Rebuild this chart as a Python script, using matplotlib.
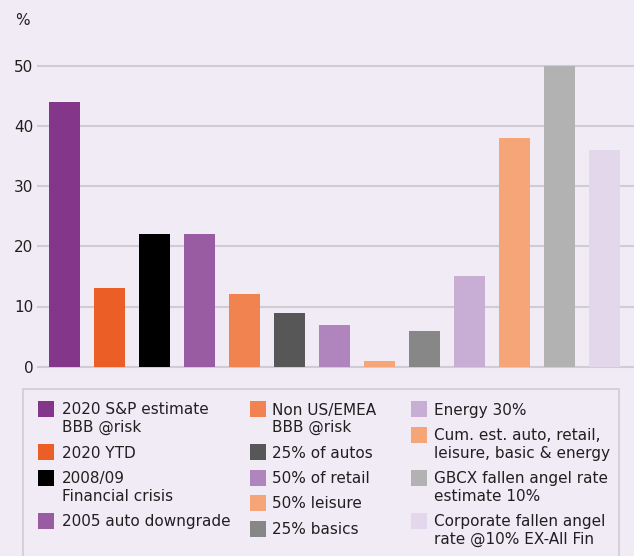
import matplotlib
matplotlib.use("Agg")
import matplotlib.pyplot as plt
from matplotlib.patches import Rectangle

# fallen angel scenarios, % of BBB universe
labels = [
    "2020 S&P estimate\nBBB @risk",
    "2020 YTD",
    "2008/09\nFinancial crisis",
    "2005 auto downgrade",
    "Non US/EMEA\nBBB @risk",
    "25% of autos",
    "50% of retail",
    "50% leisure",
    "25% basics",
    "Energy 30%",
    "Cum. est. auto, retail,\nleisure, basic & energy",
    "GBCX fallen angel rate\nestimate 10%",
    "Corporate fallen angel\nrate @10% EX-All Fin",
]
values = [44, 13, 22, 22, 12, 9, 7, 1, 6, 15, 38, 50, 36]
colors = [
    "#84368A", "#EB5F26", "#000000", "#995BA2", "#F0834F",
    "#575757", "#B085BE", "#F5A578", "#878787", "#C8AED4",
    "#F5A578", "#B2B2B2", "#E3D7EB",
]
yticks = [0, 10, 20, 30, 40, 50]

BG = "#F0EBF5"
TXT = "#231F20"
W, H = 634, 556

fig = plt.figure(figsize=(W / 100, H / 100), dpi=100, facecolor=BG)


def px(x, y):
    return x / W, 1 - y / H


# plotting area: 0 at y=366.7px, 50 at y=65.7px
ax = fig.add_axes([38 / W, (H - 366.7) / H, (W - 38) / W, 301 / H])
ax.set_facecolor(BG)
x = list(range(len(values)))
ax.bar(x, values, width=0.69, color=colors, zorder=3)
ax.set_xlim(-0.59, 12.66)
ax.set_ylim(0, 50)
ax.set_yticks(yticks)
ax.set_xticks([])
ax.yaxis.grid(True, color="#CFCDD3", linewidth=1.5, zorder=0)
for gl in ax.get_ygridlines():
    gl.set_clip_on(False)
for s in ax.spines.values():
    s.set_visible(False)
ax.tick_params(axis="y", length=0, pad=3.5, labelsize=11, labelcolor=TXT)

fig.text(*px(22, 20.5), "%", ha="center", va="center", fontsize=11, color=TXT)

# legend panel
fig.add_artist(Rectangle(px(23.3, 575), 596 / W, (575 - 389) / H,
                         transform=fig.transFigure, facecolor=BG,
                         edgecolor="#CFCCD4", linewidth=1.2))

columns = [(38, 61.7, [0, 1, 2, 3]),
           (250, 271.7, [4, 5, 6, 7, 8]),
           (411, 434, [9, 10, 11, 12])]
for sx, tx, idx in columns:
    top = 401
    for i in idx:
        fig.add_artist(Rectangle(px(sx, top + 16), 16 / W, 16 / H,
                                 transform=fig.transFigure,
                                 facecolor=colors[i], edgecolor="none"))
        fig.text(*px(tx, top + 1.5), labels[i], ha="left", va="top",
                 fontsize=11, color=TXT, linespacing=1.22)
        top += 43 if "\n" in labels[i] else 25.5

fig.savefig("out.png", dpi=100, facecolor=BG)
